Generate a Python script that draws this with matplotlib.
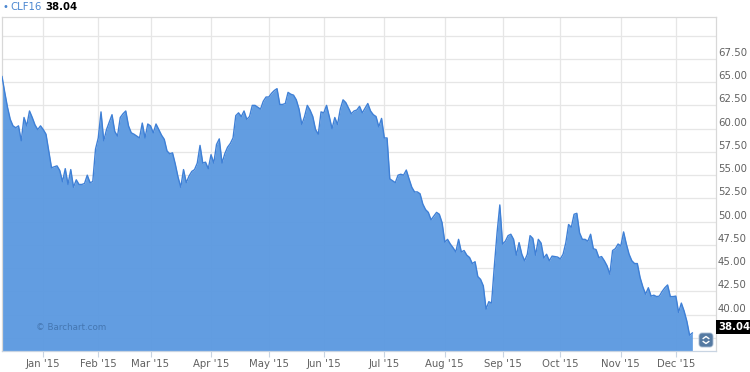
import numpy as np
import pandas as pd
import matplotlib
matplotlib.use("Agg")
import matplotlib.pyplot as plt
import matplotlib.transforms as mtransforms
from matplotlib.patches import FancyBboxPatch

# CLF16 daily closes (Dec 10 2014 - Dec 9 2015)
closes = [
    65.6, 63.9, 62.3, 61.0, 60.3, 60.1, 60.3, 58.7, 61.2, 60.3,
    61.9, 61.2, 60.4, 59.9, 60.3, 59.9, 59.4, 57.6, 55.8, 55.9,
    56.0, 55.5, 54.3, 55.7, 54.0, 55.6, 53.7, 54.5, 54.0, 54.0,
    54.1, 55.0, 54.2, 54.3, 57.8, 59.0, 61.8, 58.7, 59.9, 60.7,
    61.5, 59.7, 59.2, 61.2, 61.6, 61.9, 60.3, 59.55, 59.4, 59.2,
    59.0, 60.6, 59.0, 60.5, 60.3, 59.55, 60.5, 59.9, 59.3, 58.85,
    57.6, 57.3, 57.4, 56.2, 54.8, 53.7, 55.6, 54.2, 54.9, 55.4,
    55.6, 56.3, 58.2, 56.3, 56.4, 55.7, 57.2, 56.3, 58.3, 58.9,
    56.3, 57.3, 58.0, 58.4, 59.0, 61.4, 61.7, 61.3, 61.9, 61.0,
    61.3, 62.5, 62.5, 62.3, 62.1, 62.95, 63.4, 63.4, 63.8, 64.1,
    64.3, 62.6, 62.6, 62.7, 63.9, 63.7, 63.6, 63.1, 62.1, 60.45,
    61.3, 62.5, 62.0, 61.3, 59.9, 59.4, 61.8, 61.7, 62.5, 61.3,
    60.0, 61.2, 60.45, 62.1, 63.1, 62.8, 62.2, 61.6, 61.9, 62.0,
    62.4, 61.7, 62.2, 62.7, 61.9, 61.5, 61.3, 60.2, 61.1, 59.0,
    59.0, 54.6, 54.4, 54.2, 55.0, 55.1, 55.0, 55.55, 54.6, 53.7,
    53.2, 53.2, 53.0, 51.9, 51.3, 51.0, 50.2, 50.6, 51.0, 50.8,
    49.9, 47.8, 48.1, 47.6, 47.2, 46.75, 48.1, 46.75, 46.9, 46.4,
    46.15, 45.5, 45.7, 44.1, 43.8, 43.1, 40.6, 41.4, 41.25, 45.2,
    48.8, 51.8, 47.6, 47.9, 48.5, 48.65, 48.1, 46.4, 47.75, 46.5,
    45.8, 46.5, 48.5, 48.2, 46.4, 48.1, 47.7, 46.1, 46.5, 45.8,
    46.3, 46.25, 46.2, 46.0, 46.5, 47.75, 49.7, 49.4, 50.8, 50.9,
    48.8, 48.1, 48.1, 47.9, 48.65, 47.1, 47.0, 46.15, 46.25, 45.8,
    45.25, 44.35, 46.9, 47.1, 47.6, 47.4, 48.9, 47.6, 46.5, 45.8,
    45.5, 45.5, 44.0, 43.0, 42.2, 42.9, 42.0, 42.1, 41.95, 42.0,
    42.5, 42.9, 43.2, 41.95, 41.95, 42.0, 40.25, 41.25, 40.4, 39.3,
    37.8, 38.04,
]
holidays = ["2014-12-25", "2015-01-01", "2015-01-19", "2015-02-16",
            "2015-04-03", "2015-05-25", "2015-07-03", "2015-09-07",
            "2015-11-26"]
grid_levels = [37.5, 40, 42.5, 45, 47.5, 50, 52.5, 55, 57.5, 60,
               62.5, 65, 67.5, 70]
label_levels = [40, 42.5, 45, 47.5, 50, 52.5, 55, 57.5, 60, 62.5, 65, 67.5]
symbol = "CLF16"
last_price = 38.04

dates = pd.bdate_range("2014-12-10", periods=len(closes), freq="C",
                       holidays=holidays)
idx = np.arange(len(closes))

# first trading day of each month from Jan 2015 -> tick positions
month = dates.to_period("M")
first = np.r_[False, month[1:] != month[:-1]]
tick_pos = idx[first]
tick_lbl = [d.strftime("%b '%y") for d in dates[first]]

fill_col = "#5a98e0"
line_col = "#3f80d6"
grid_col = "#e6e6e6"
txt_col = "#606060"
ymin, ymax = 36.1, 72.0

fig = plt.figure(figsize=(7.5, 3.72), dpi=100)
ax = fig.add_axes([2 / 750, 21 / 372, 714 / 750, 334 / 372])

ax.fill_between(idx, closes, ymin, color=fill_col, alpha=0.95, lw=0, zorder=2)
ax.plot(idx, closes, color=line_col, lw=1.0, zorder=3)

ax.set_xlim(0, 259.6)
ax.set_ylim(ymin, ymax)

ax.set_xticks(tick_pos)
ax.set_xticklabels(tick_lbl, fontsize=7.3, color=txt_col)
ax.tick_params(axis="x", length=4, pad=2, color="#c8d4e2")
ax.set_yticks(grid_levels)
ax.set_yticklabels([])
ax.tick_params(axis="y", length=0)
ax.grid(True, color=grid_col, lw=0.9, zorder=1)
ax.set_axisbelow(True)
for s in ax.spines.values():
    s.set_color("#d8d8d8")
    s.set_linewidth(0.9)
ax.spines["bottom"].set_color("#c8d4e2")

# price labels on the right sit a few pixels above their gridline
lbl_tr = mtransforms.blended_transform_factory(ax.transAxes, ax.transData) + \
    mtransforms.ScaledTranslation(2 / 100, 6 / 100, fig.dpi_scale_trans)
for v in label_levels:
    ax.text(1.0, v, "%.2f" % v, transform=lbl_tr, fontsize=7.3,
            color=txt_col, ha="left", va="center", clip_on=False)
ax.text(1.0, last_price, "%.2f" % last_price, transform=lbl_tr, fontsize=7.3,
        color="white", fontweight="bold", ha="left", va="center",
        clip_on=False, zorder=5,
        bbox=dict(facecolor="black", edgecolor="none", pad=1.2))

ax.text(0.047, 0.069, "\u00a9 Barchart.com", transform=ax.transAxes,
        fontsize=6.3, color="#3f6fa8", alpha=0.85, va="center", zorder=4)

# header
fig.text(3 / 750, 1 - 7.5 / 372, "\u2022", color="#4a86d0", fontsize=7,
         va="center")
fig.text(10 / 750, 1 - 7.5 / 372, symbol, color="#4a86d0", fontsize=7.3,
         va="center")
fig.text(45 / 750, 1 - 7.5 / 372, "%.2f" % last_price, color="black",
         fontsize=7.3, fontweight="bold", va="center")

# little scroll widget in the corner
tr = fig.dpi_scale_trans
box = FancyBboxPatch((6.99, (372 - 347) / 100), 0.14, 0.14,
                     boxstyle="round,pad=0,rounding_size=0.03",
                     facecolor="#557aa2", edgecolor="#a9bcd2", lw=0.6,
                     transform=tr, zorder=6)
fig.patches.append(box)
cx = 7.06
for y0, dy in [((372 - 336.5) / 100, 0.02), ((372 - 343.5) / 100, -0.02)]:
    fig.lines.append(plt.Line2D([cx - 0.028, cx, cx + 0.028],
                                [y0 - dy, y0, y0 - dy], color="white",
                                lw=1.0, transform=tr, zorder=7))

fig.savefig("out.png", dpi=100)
